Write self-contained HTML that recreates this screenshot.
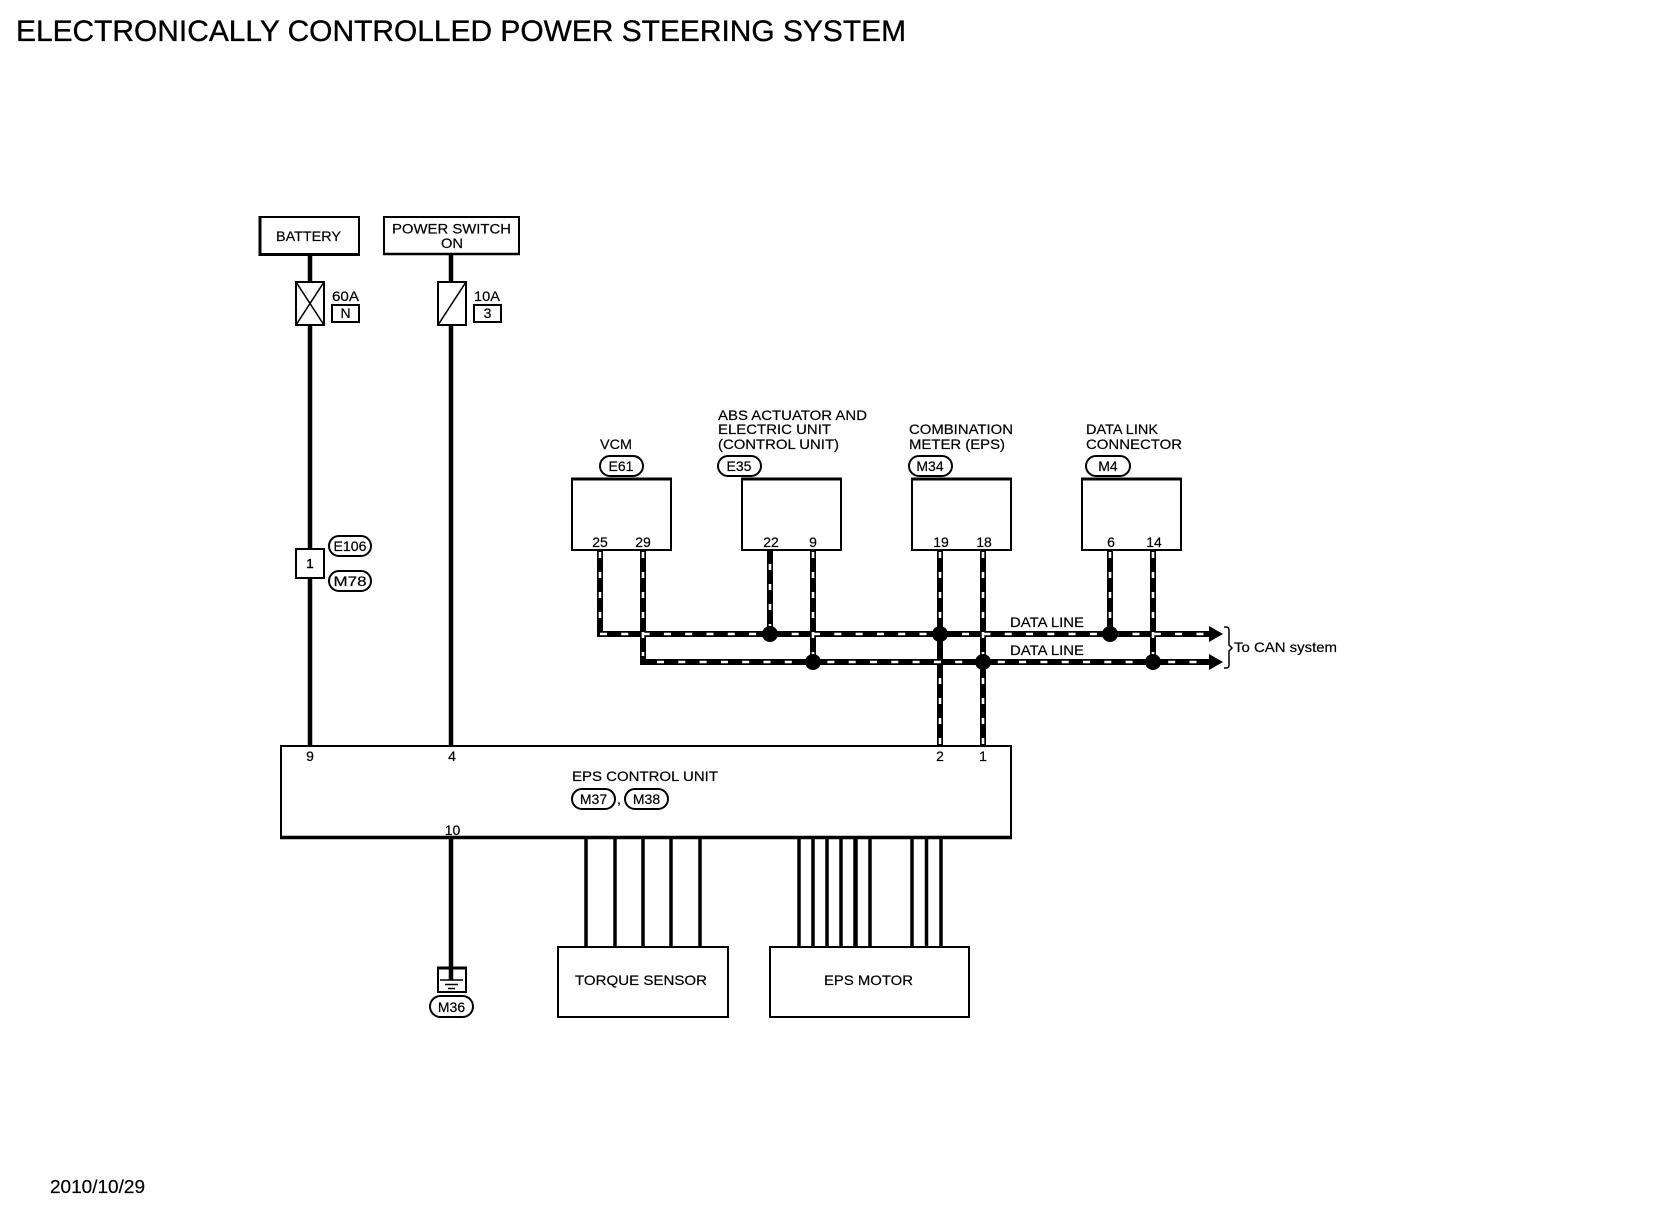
<!DOCTYPE html>
<html lang="en">
<head>
<meta charset="utf-8">
<title>Electronically Controlled Power Steering System</title>
<style>
html,body{margin:0;padding:0;background:#fff;width:1660px;height:1216px;overflow:hidden}
svg{display:block}
text{font-family:"Liberation Sans",Arial,sans-serif;font-size:14px;fill:#000;stroke:#000;stroke-width:.2}
.m{text-anchor:middle}
.box{fill:#fff;stroke:#000;stroke-width:2}
.ov{fill:#fff;stroke:#000;stroke-width:2}
.w4{stroke:#000;stroke-width:4.5;fill:none}
.w3{stroke:#000;stroke-width:3.5;fill:none}
.db{stroke:#000;stroke-width:6;fill:none}
.dw{stroke:#fff;stroke-width:2.6;fill:none}
</style>
</head>
<body>
<svg width="1660" height="1216" viewBox="0 0 1660 1216" xmlns="http://www.w3.org/2000/svg">
<rect width="1660" height="1216" fill="#fff"/>

<text x="16" y="41" style="font-size:30px;stroke-width:.35" textLength="890" lengthAdjust="spacingAndGlyphs">ELECTRONICALLY CONTROLLED POWER STEERING SYSTEM</text>
<text x="50" y="1193" style="font-size:18px" textLength="95" lengthAdjust="spacingAndGlyphs">2010/10/29</text>

<!-- power wires -->
<path class="w4" d="M310 254V746"/>
<path class="w4" d="M451 254V746"/>
<path class="w4" d="M451 838V980"/>

<!-- battery -->
<rect class="box" x="260" y="217" width="99" height="37"/>
<path d="M260 216V256" stroke="#000" stroke-width="3"/>
<path d="M259 254.500H360" stroke="#000" stroke-width="3"/>
<text x="276" y="241" textLength="65" lengthAdjust="spacingAndGlyphs">BATTERY</text>

<!-- power switch -->
<rect class="box" x="384" y="217" width="135" height="37"/>
<path d="M383 254H520" stroke="#000" stroke-width="2.500"/>
<text x="392" y="233.500" textLength="119" lengthAdjust="spacingAndGlyphs">POWER SWITCH</text>
<text x="441" y="248" textLength="22" lengthAdjust="spacingAndGlyphs">ON</text>

<!-- fuses -->
<rect class="box" x="296" y="282" width="28" height="43"/>
<path d="M296 282L324 325M324 282L296 325" stroke="#000" stroke-width="1.600"/>
<text x="332" y="301" textLength="27" lengthAdjust="spacingAndGlyphs">60A</text>
<rect class="box" x="332" y="305" width="27" height="17"/>
<text class="m" x="345.500" y="318">N</text>

<rect class="box" x="438" y="282" width="28" height="43"/>
<path d="M438 325L466 282" stroke="#000" stroke-width="1.600"/>
<text x="474" y="301" textLength="26" lengthAdjust="spacingAndGlyphs">10A</text>
<rect class="box" x="474" y="305" width="27" height="17"/>
<text class="m" x="487.500" y="318">3</text>

<!-- inline connector -->
<rect class="box" x="296" y="549" width="28" height="29"/>
<text class="m" x="310" y="568" style="font-size:13px;stroke-width:.5">1</text>
<rect class="ov" x="329" y="536" width="42" height="20" rx="10"/>
<text class="m" x="350" y="551" textLength="33" lengthAdjust="spacingAndGlyphs">E106</text>
<rect class="ov" x="329" y="571" width="42" height="20" rx="10"/>
<text class="m" x="350" y="586" textLength="33" lengthAdjust="spacingAndGlyphs">M78</text>

<!-- top boxes -->
<rect class="box" x="572" y="479" width="99" height="71"/>
<rect class="box" x="742" y="479" width="99" height="71"/>
<rect class="box" x="912" y="479" width="99" height="71"/>
<rect class="box" x="1082" y="479" width="99" height="71"/>
<path d="M571 479H672M741 479H842M911 479H1012M1081 479H1182" stroke="#000" stroke-width="3"/>

<!-- pin labels -->
<text class="m" x="600" y="547">25</text>
<text class="m" x="643" y="547">29</text>
<text class="m" x="771" y="547">22</text>
<text class="m" x="813" y="547">9</text>
<text class="m" x="941" y="547">19</text>
<text class="m" x="984" y="547">18</text>
<text class="m" x="1111" y="547">6</text>
<text class="m" x="1154" y="547">14</text>

<!-- top labels -->
<text x="600" y="449" textLength="32" lengthAdjust="spacingAndGlyphs">VCM</text>
<rect class="ov" x="600" y="456" width="43" height="20" rx="10"/>
<text class="m" x="621" y="471">E61</text>

<text x="718" y="420" textLength="149" lengthAdjust="spacingAndGlyphs">ABS ACTUATOR AND</text>
<text x="718" y="434" textLength="113" lengthAdjust="spacingAndGlyphs">ELECTRIC UNIT</text>
<text x="718" y="449" textLength="121" lengthAdjust="spacingAndGlyphs">(CONTROL UNIT)</text>
<rect class="ov" x="718" y="456" width="43" height="20" rx="10"/>
<text class="m" x="739" y="471">E35</text>

<text x="909" y="434" textLength="104" lengthAdjust="spacingAndGlyphs">COMBINATION</text>
<text x="909" y="449" textLength="96" lengthAdjust="spacingAndGlyphs">METER (EPS)</text>
<rect class="ov" x="909" y="456" width="43" height="20" rx="10"/>
<text class="m" x="930" y="471">M34</text>

<text x="1086" y="434" textLength="72" lengthAdjust="spacingAndGlyphs">DATA LINK</text>
<text x="1086" y="449" textLength="96" lengthAdjust="spacingAndGlyphs">CONNECTOR</text>
<rect class="ov" x="1086" y="456" width="44" height="20" rx="10"/>
<text class="m" x="1108" y="471">M4</text>

<!-- CAN wires: black -->
<path class="db" d="M600 550V634H1210"/>
<path class="db" d="M643 550V662H1210"/>
<path class="db" d="M770 550V634"/>
<path class="db" d="M813 550V662"/>
<path class="db" d="M940 550V746"/>
<path class="db" d="M983 550V746"/>
<path class="db" d="M1110 550V634"/>
<path class="db" d="M1153 550V662"/>

<!-- CAN wires: white dashes -->
<path class="dw" d="M600 552V628" stroke-dasharray="6 14"/>
<path class="dw" d="M643 552V656" stroke-dasharray="6 14"/>
<path class="dw" d="M770 564V626" stroke-dasharray="6 14"/>
<path class="dw" d="M813 552V656" stroke-dasharray="6 14"/>
<path class="dw" d="M940 552V626" stroke-dasharray="6 14"/>
<path class="dw" d="M940 678V746" stroke-dasharray="6 14"/>
<path class="dw" d="M983 552V654" stroke-dasharray="6 14"/>
<path class="dw" d="M983 678V746" stroke-dasharray="6 14"/>
<path class="dw" d="M1110 552V626" stroke-dasharray="6 14"/>
<path class="dw" d="M1153 552V654" stroke-dasharray="6 14"/>
<path class="dw" d="M600 634H1205" stroke-dasharray="7 14.300"/>
<path class="dw" d="M657 662H1205" stroke-dasharray="7 14.300"/>

<!-- junction dots -->
<g fill="#000">
<circle cx="770" cy="634" r="8"/>
<circle cx="940" cy="634" r="8"/>
<circle cx="1110" cy="634" r="8"/>
<circle cx="813" cy="662" r="8"/>
<circle cx="983" cy="662" r="8"/>
<circle cx="1153" cy="662" r="8"/>
<path d="M1209 626L1223 634L1209 642Z"/>
<path d="M1209 654L1223 662L1209 670Z"/>
</g>

<text x="1010" y="627" textLength="74" lengthAdjust="spacingAndGlyphs">DATA LINE</text>
<text x="1010" y="655" textLength="74" lengthAdjust="spacingAndGlyphs">DATA LINE</text>

<!-- brace -->
<path d="M1224 627H1226Q1229 627 1229 630V645L1232 648L1229 651V665Q1229 668 1226 668H1224" fill="none" stroke="#000" stroke-width="1.500"/>
<text x="1234" y="652" textLength="103" lengthAdjust="spacingAndGlyphs">To CAN system</text>

<!-- EPS control unit -->
<rect class="box" x="281" y="746" width="730" height="91"/>
<path d="M280 837.500H1012" stroke="#000" stroke-width="3.500"/>
<text class="m" x="310" y="761">9</text>
<text class="m" x="452" y="761">4</text>
<text class="m" x="940" y="761">2</text>
<text class="m" x="983" y="761">1</text>
<text class="m" x="452.500" y="835">10</text>
<text x="572" y="781" textLength="146" lengthAdjust="spacingAndGlyphs">EPS CONTROL UNIT</text>
<rect class="ov" x="572" y="789" width="43" height="20" rx="10"/>
<text class="m" x="593.500" y="804">M37</text>
<text x="617" y="804">,</text>
<rect class="ov" x="625" y="789" width="43" height="20" rx="10"/>
<text class="m" x="646.500" y="804">M38</text>

<!-- lower wires -->
<path class="w3" d="M586 839V947M615 839V947M643 839V947M671 839V947M700 839V947"/>
<path class="w3" d="M799 839V947M813 839V947M827 839V947M841 839V947M870 839V947"/>
<path class="w4" d="M855.500 839V947"/>
<path class="w3" d="M912 839V947M926.500 839V947M941 839V947"/>

<!-- torque sensor and motor -->
<rect class="box" x="558" y="947" width="170" height="70"/>
<text x="575" y="985" textLength="132" lengthAdjust="spacingAndGlyphs">TORQUE SENSOR</text>
<rect class="box" x="770" y="947" width="199" height="70"/>
<text x="824" y="985" textLength="89" lengthAdjust="spacingAndGlyphs">EPS MOTOR</text>

<!-- ground -->
<rect class="box" x="438" y="968" width="28" height="24"/>
<path d="M437 968H467" stroke="#000" stroke-width="3"/>
<path class="w4" d="M451 968V980"/>
<path d="M440 980H463M445 984.500H458M448 988.500H455" stroke="#000" stroke-width="1.500"/>
<rect class="ov" x="430" y="996" width="43" height="21" rx="10.500"/>
<text class="m" x="451.500" y="1012">M36</text>
</svg>
</body>
</html>
